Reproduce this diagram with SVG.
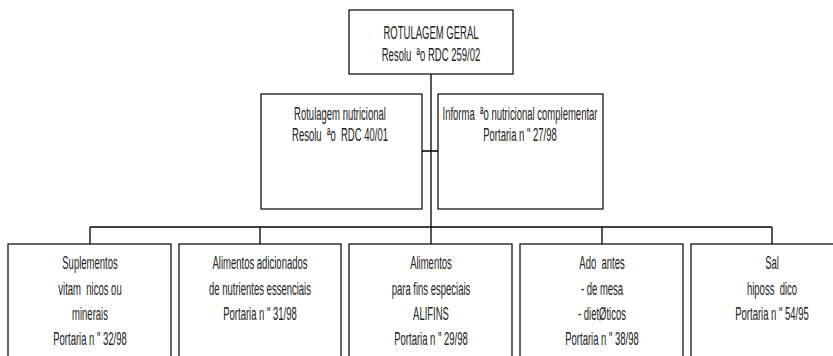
<svg xmlns="http://www.w3.org/2000/svg" width="833" height="356" viewBox="0 0 833 356">
<style>
.box{fill:#fff;stroke:#000;stroke-width:1.2}
.ln{fill:none;stroke:#000;stroke-width:1.3}
text{font-family:"Liberation Sans",Arial,sans-serif;font-size:19px;fill:#222;text-anchor:middle;white-space:pre}
</style>
<rect width="833" height="356" fill="#fff"/>
<g id="connectors">
<path class="ln" d="M431 74V244M422 151H438M90 227H772M90 227V244M260 227V244M602 227V244M772 227V244"/>
</g>
<g id="n-geral">
<rect class="box" x="349" y="10" width="164" height="64"/>
<text transform="translate(431,39) scale(0.5,1)">ROTULAGEM GERAL</text>
<text transform="translate(431,61) scale(0.5,1)">Resolu  ªo RDC 259/02</text>
</g>
<g id="n-nutricional">
<rect class="box" x="261" y="94" width="161" height="115"/>
<text transform="translate(340,120) scale(0.5,1)">Rotulagem nutricional</text>
<text transform="translate(340,141) scale(0.5,1)">Resolu  ªo  RDC 40/01</text>
</g>
<g id="n-complementar">
<rect class="box" x="438" y="94" width="165" height="115"/>
<text transform="translate(520,120) scale(0.5,1)">Informa  ªo nutricional complementar</text>
<text transform="translate(520,141) scale(0.5,1)">Portaria n " 27/98</text>
</g>
<g id="n-suplementos">
<rect class="box" x="8" y="244" width="163" height="130"/>
<text transform="translate(90,269) scale(0.5,1)">Suplementos</text>
<text transform="translate(90,295) scale(0.5,1)">vitam  nicos ou</text>
<text transform="translate(90,320) scale(0.5,1)">minerais</text>
<text transform="translate(90,345) scale(0.5,1)">Portaria n " 32/98</text>
</g>
<g id="n-adicionados">
<rect class="box" x="179" y="244" width="162" height="130"/>
<text transform="translate(260,269) scale(0.5,1)">Alimentos adicionados</text>
<text transform="translate(260,295) scale(0.5,1)">de nutrientes essenciais</text>
<text transform="translate(260,320) scale(0.5,1)">Portaria n " 31/98</text>
</g>
<g id="n-alifins">
<rect class="box" x="349" y="244" width="163" height="130"/>
<text transform="translate(431,269) scale(0.5,1)">Alimentos</text>
<text transform="translate(431,295) scale(0.5,1)">para fins especiais</text>
<text transform="translate(431,320) scale(0.5,1)">ALIFINS</text>
<text transform="translate(431,345) scale(0.5,1)">Portaria n " 29/98</text>
</g>
<g id="n-adocantes">
<rect class="box" x="520" y="244" width="163" height="130"/>
<text transform="translate(602,269) scale(0.5,1)">Ado  antes</text>
<text transform="translate(602,295) scale(0.5,1)">- de mesa</text>
<text transform="translate(602,320) scale(0.5,1)">- dietØticos</text>
<text transform="translate(602,345) scale(0.5,1)">Portaria n " 38/98</text>
</g>
<g id="n-sal">
<rect class="box" x="691" y="244" width="163" height="130"/>
<text transform="translate(772,269) scale(0.5,1)">Sal</text>
<text transform="translate(772,295) scale(0.5,1)">hiposs  dico</text>
<text transform="translate(772,320) scale(0.5,1)">Portaria n " 54/95</text>
</g>
</svg>
